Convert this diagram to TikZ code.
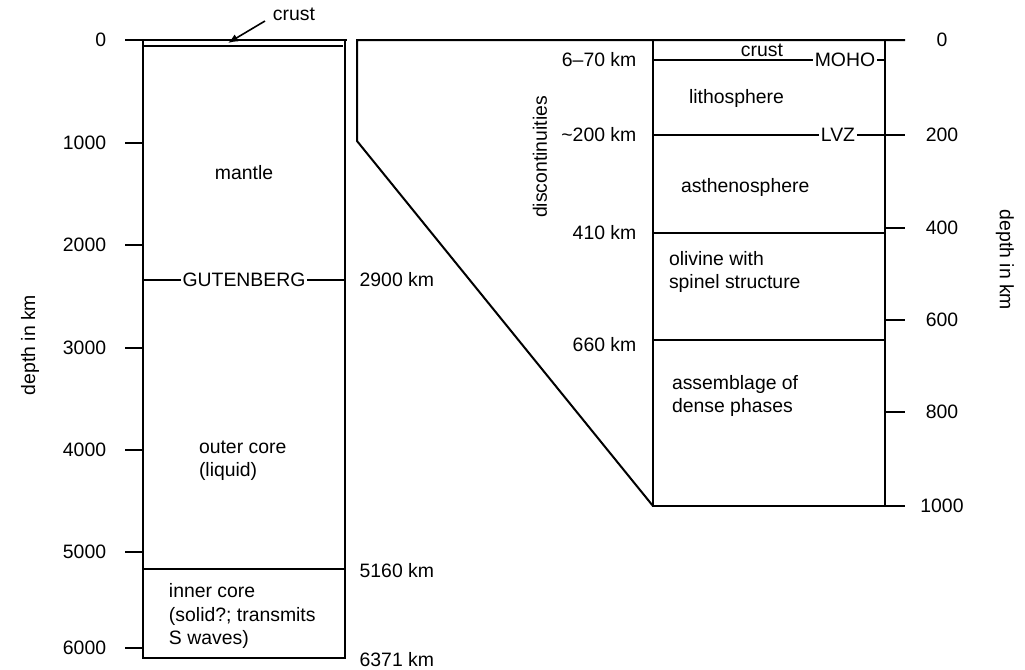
\documentclass[tikz,border=0pt]{standalone}
\usepackage{fontspec}
\setmainfont{Liberation Sans}
\usetikzlibrary{arrows.meta,positioning,calc}

\begin{document}
\begin{tikzpicture}[x=0.5pt,y=-0.5pt,>={Latex[length=5pt,width=4pt]},line width=1pt,
    font=\fontsize{9.7}{11.6}\selectfont,
    brk/.style={fill=white,inner sep=1pt},
    txt/.style={align=left,anchor=west,inner sep=0pt},
    tick/.style={line width=0.9pt}]
  \useasboundingbox (0,0) rectangle (1025,670);
  % terra intera
  \coordinate (eTL) at (143,40);  \coordinate (eTR) at (345,40);
  \coordinate (eBL) at (143,658); \coordinate (eBR) at (345,658);
  \draw (125,40) -- (347,40);
  \draw (eTL) -- (eBL) -- (eBR) -- (eTR);
  \draw (143,46) -- (343,46);
  \foreach \y/\lab in {40/0,143/1000,245/2000,348/3000,450/4000,552/5000,648/6000}
    \draw[tick] (125,\y) -- (143,\y) node[pos=0,left=9pt,inner sep=0pt] {\lab};
  \node[rotate=90] (depthL) at (30,345) {depth in km};
  % crosta
  \node[inner sep=1pt] (crustL) at (294,14) {crust};
  \coordinate (crustTip) at (228,43);
  \draw[->,line width=0.8pt] ($(crustL.west)+(-5,7)$) -- (crustTip);
  % discontinuita' profonde
  \draw (143,280) -- node[brk] (guten) {GUTENBERG} (345,280);
  \draw (143,569) -- (345,569);
  \node[anchor=west] (d2900) at (352,280) {2900 km};
  \node[anchor=west] (d5160) at (352,571) {5160 km};
  \node[anchor=west] (d6371) at (352,660) {6371 km};
  % strati
  \node (mantle) at (244,173) {mantle};
  \node[txt] (outer) at (198,461) {outer core\\(liquid)};
  \node[txt] (inner) at (168,616) {inner core\\(solid?; transmits\\S waves)};
  % ingrandimento dei primi 1000 km
  \coordinate (zTL) at (653,40);  \coordinate (zTR) at (885,40);
  \coordinate (zBL) at (653,506); \coordinate (zBR) at (885,506);
  \draw (905,40) -- (357,40) -- (357,141) -- (zBL);
  \draw (zTL) -- (zBL) -- (905,506);
  \draw (zTR) -- (zBR);
  \foreach \y/\lab in {40/0,135/200,228/400,320/600,412/800,506/1000}
    {\draw[tick] (885,\y) -- (905,\y); \node at (942,\y) {\lab};}
  \node[rotate=-90] (depthR) at (1005,260) {depth in km};
  % discontinuita' superiori
  \draw (653,60) -- (885,60);
  \node[brk] (moho) at (845,60) {MOHO};
  \node[above=0pt,inner sep=1pt] (crustR) at (762,60) {crust};
  \draw (653,135) -- (905,135);
  \node[brk] (lvz) at (838,135) {LVZ};
  \draw (653,233) -- (885,233);
  \draw (653,340) -- (885,340);
  \foreach \y/\lab in {60/6--70 km,135/\textasciitilde200 km,233/410 km,345/660 km}
    \node[anchor=east] at (644,\y) {\lab};
  \node[rotate=90] (disc) at (540,157) {discontinuities};
  % strati superiori
  \node[txt] (litho) at (688,98) {lithosphere};
  \node[txt] (astheno) at (680,187) {asthenosphere};
  \node[txt] (olivine) at (668,272) {olivine with\\spinel structure};
  \node[txt] (dense) at (671,396) {assemblage of\\dense phases};
\end{tikzpicture}
\end{document}
